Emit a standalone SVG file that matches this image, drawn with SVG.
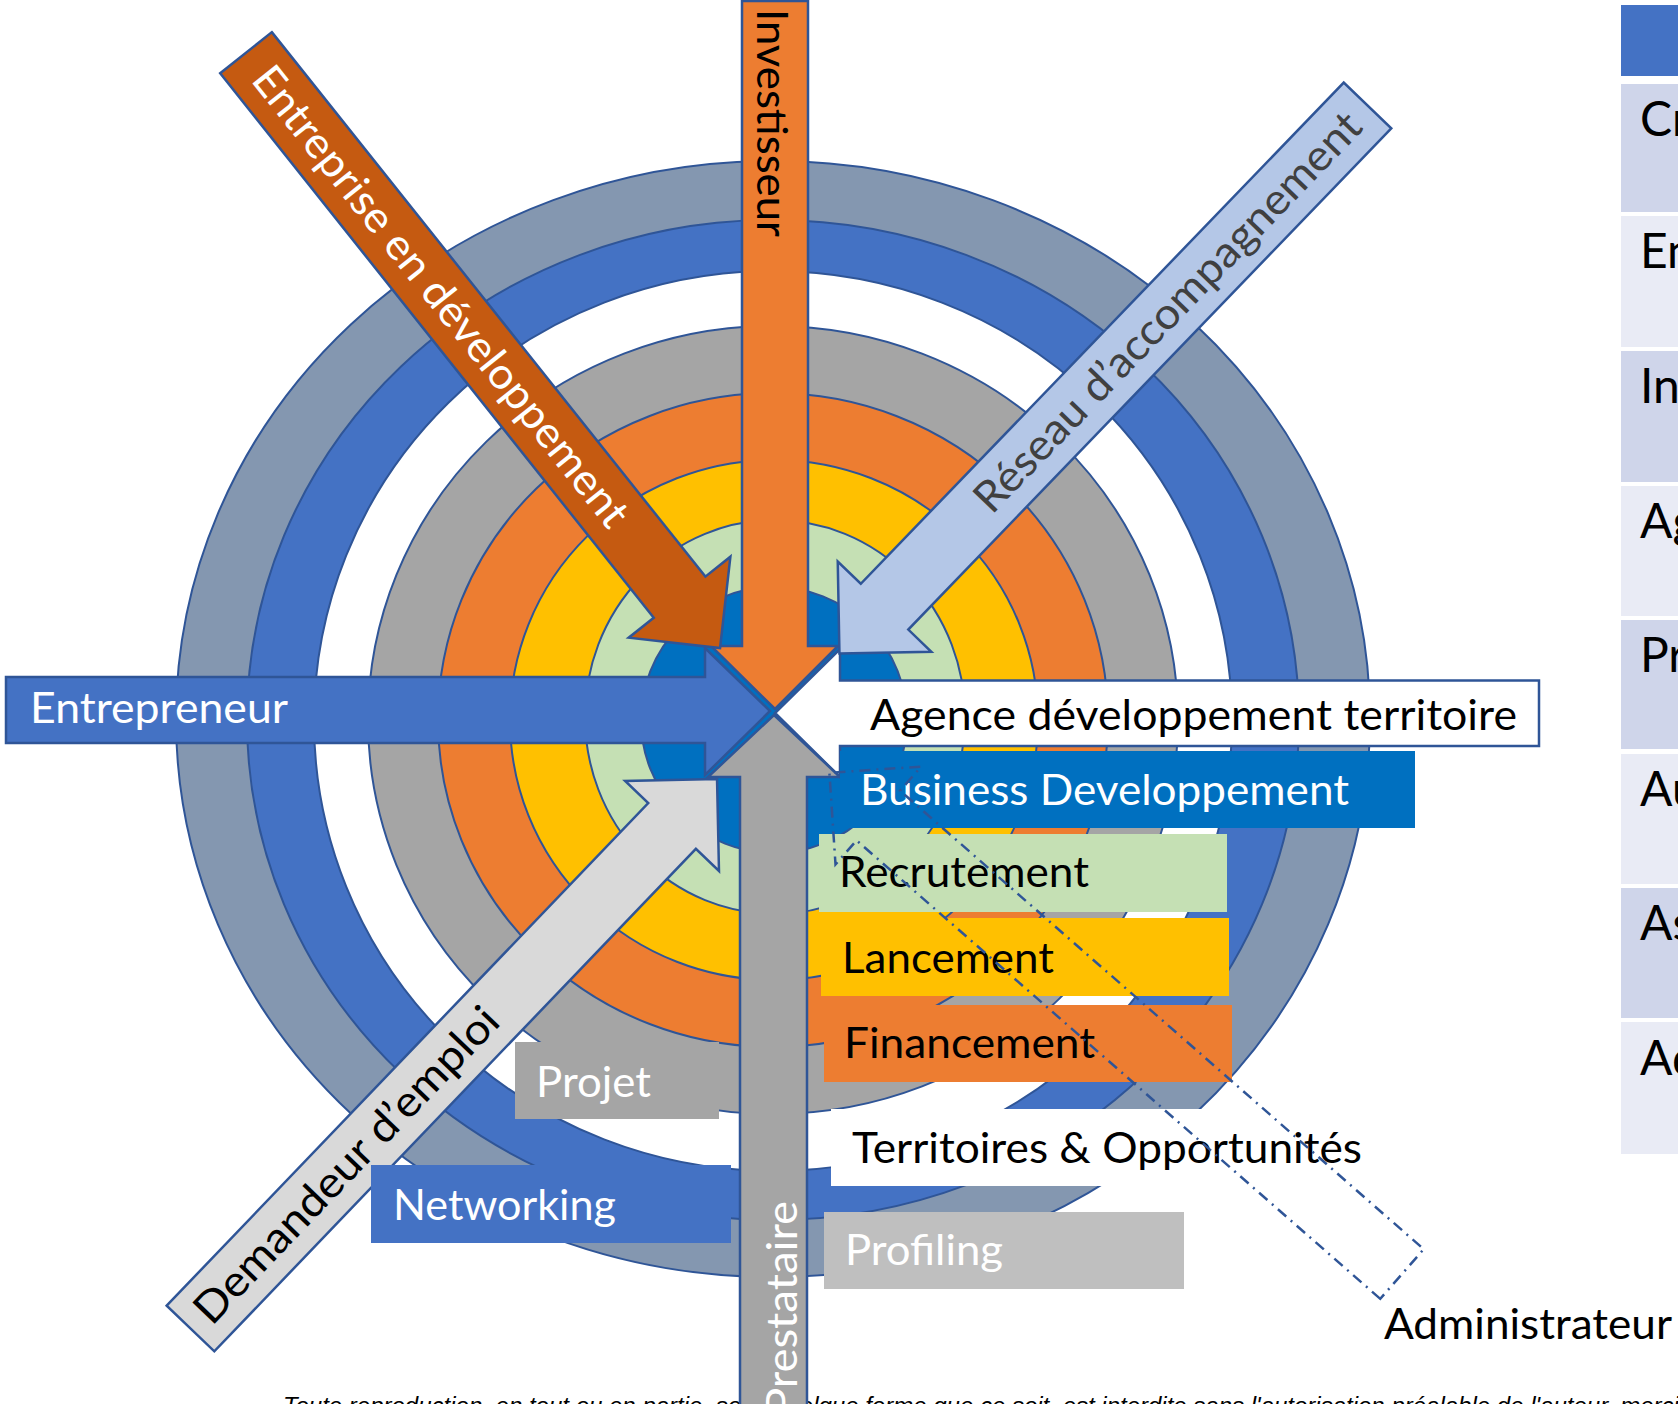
<svg xmlns="http://www.w3.org/2000/svg" width="1678" height="1404" viewBox="0 0 1678 1404">
<style>
.ring{stroke:#2F5597;stroke-width:2}
.arr{stroke:#2F5597;stroke-width:2.5;stroke-linejoin:miter}
.lbl{font-family:Lato,"Open Sans","DejaVu Sans",sans-serif;font-size:43px}
.tbl{font-family:Lato,"Open Sans","DejaVu Sans",sans-serif;font-size:48px;fill:#000}
.foot{font-family:"Liberation Sans",Arial,sans-serif;font-size:24px;font-style:italic;fill:#000}
.dark{fill:#CFD5EA}
.light{fill:#E9EBF5}
</style>
<defs>
<path id="diag" d="M0,-33 H696 V-65 L761,0 L696,65 V33 H0 Z"/>
</defs>
<rect width="1678" height="1404" fill="#FFFFFF"/>

<g id="footer">
<text class="foot" x="283" y="1414">Toute reproduction, en tout ou en partie, sous quelque forme que ce soit, est interdite sans l'autorisation préalable de l'auteur, merci</text>
</g>

<g id="table">
<rect x="1621" y="5" width="70" height="71" fill="#4472C4"/>
<rect class="dark" x="1621" y="84" width="70" height="128"/>
<rect class="light" x="1621" y="216" width="70" height="131"/>
<rect class="dark" x="1621" y="351" width="70" height="131"/>
<rect class="light" x="1621" y="486" width="70" height="130"/>
<rect class="dark" x="1621" y="620" width="70" height="129"/>
<rect class="light" x="1621" y="754" width="70" height="130"/>
<rect class="dark" x="1621" y="888" width="70" height="130"/>
<rect class="light" x="1621" y="1022" width="70" height="132"/>
<text class="tbl" x="1640" y="136">Cr</text>
<text class="tbl" x="1640" y="268">En</text>
<text class="tbl" x="1640" y="403">Inv</text>
<text class="tbl" x="1640" y="538">Ag</text>
<text class="tbl" x="1640" y="672">Pr</text>
<text class="tbl" x="1640" y="806">Au</text>
<text class="tbl" x="1640" y="940">As</text>
<text class="tbl" x="1640" y="1075">Ad</text>
</g>

<g id="rings">
<ellipse class="ring" cx="773" cy="719" rx="597" ry="558" fill="#8497B0"/>
<ellipse class="ring" cx="773" cy="720" rx="526" ry="500" fill="#4472C4"/>
<ellipse class="ring" cx="773" cy="721" rx="459" ry="450" fill="#FFFFFF"/>
<ellipse class="ring" cx="773" cy="720" rx="405" ry="394" fill="#A5A5A5"/>
<ellipse class="ring" cx="773" cy="720" rx="335" ry="327" fill="#ED7D31"/>
<ellipse class="ring" cx="774" cy="720" rx="264" ry="260" fill="#FFC000"/>
<ellipse class="ring" cx="775" cy="717" rx="190" ry="197" fill="#C5E0B4"/>
<circle class="ring" cx="774" cy="720" r="133" fill="#0070C0"/>
</g>

<g id="agence">
<path class="arr" d="M1539,680.6 H840 V649 L775,713 L840,777 V746 H1539 Z" fill="#FFFFFF"/>
<text class="lbl" x="870" y="730" fill="#000" textLength="647" lengthAdjust="spacingAndGlyphs">Agence développement territoire</text>
</g>

<g id="entrepreneur">
<path class="arr" d="M6,677 H705 V648 L770,711 L705,775 V743 H6 Z" fill="#4472C4"/>
<text class="lbl" x="30" y="723" fill="#FFFFFF" textLength="258" lengthAdjust="spacingAndGlyphs">Entrepreneur</text>
</g>

<g id="investisseur">
<path class="arr" d="M742,1 H808 V646 H838 L775,709 L711,646 H742 Z" fill="#ED7D31"/>
<text class="lbl" transform="translate(757,9) rotate(90)" x="0" y="0" fill="#000" textLength="228" lengthAdjust="spacingAndGlyphs">Investisseur</text>
</g>

<g id="prestataire">
<path class="arr" d="M740,1410 V777 H708 L774,715 L840,777 H807 V1410 Z" fill="#A5A5A5"/>
<text class="lbl" transform="translate(797,1415) rotate(-90)" x="0" y="0" fill="#FFFFFF" textLength="214" lengthAdjust="spacingAndGlyphs">Prestataire</text>
</g>

<g id="entreprise">
<g transform="translate(246,52.7) rotate(51.47)">
<use href="#diag" class="arr" fill="#C55A11"/>
<text class="lbl" x="24" y="14" fill="#FFFFFF" textLength="576" lengthAdjust="spacingAndGlyphs">Entreprise en développement</text>
</g>
</g>

<g id="reseau">
<use href="#diag" class="arr" fill="#B4C7E7" transform="translate(1367.5,105.5) rotate(133.94)"/>
<text class="lbl" transform="translate(1168,312.5) rotate(-46.06)" x="-268.5" y="14" fill="#404040" textLength="537" lengthAdjust="spacingAndGlyphs">Réseau d’accompagnement</text>
</g>

<g id="demandeur">
<g transform="translate(190.5,1328.5) rotate(-46.22)">
<use href="#diag" class="arr" fill="#D9D9D9"/>
<text class="lbl" x="16" y="14" fill="#000" textLength="420" lengthAdjust="spacingAndGlyphs">Demandeur d’emploi</text>
</g>
</g>

<g id="business">
<rect x="840" y="751" width="575" height="77" fill="#0070C0"/>
<text class="lbl" x="860" y="805" fill="#FFFFFF" textLength="489" lengthAdjust="spacingAndGlyphs">Business Developpement</text>
</g>
<g id="recrutement">
<rect x="819" y="834" width="408" height="78" fill="#C5E0B4"/>
<text class="lbl" x="839" y="887" fill="#000" textLength="250" lengthAdjust="spacingAndGlyphs">Recrutement</text>
</g>
<g id="lancement">
<rect x="821" y="918" width="408" height="78" fill="#FFC000"/>
<text class="lbl" x="842" y="973" fill="#000" textLength="212" lengthAdjust="spacingAndGlyphs">Lancement</text>
</g>
<g id="financement">
<rect x="824" y="1005" width="408" height="77" fill="#ED7D31"/>
<text class="lbl" x="844" y="1058" fill="#000" textLength="251" lengthAdjust="spacingAndGlyphs">Financement</text>
</g>
<g id="territoires">
<rect x="831" y="1109" width="540" height="77" fill="#FFFFFF"/>
<text class="lbl" x="852" y="1163" fill="#000" textLength="510" lengthAdjust="spacingAndGlyphs">Territoires &amp; Opportunités</text>
</g>
<g id="profiling">
<rect x="824" y="1212" width="360" height="77" fill="#BFBFBF"/>
<text class="lbl" x="845" y="1265" fill="#FFFFFF" textLength="158" lengthAdjust="spacingAndGlyphs">Profiling</text>
</g>
<g id="projet">
<rect x="515" y="1042" width="204" height="77" fill="#A5A5A5"/>
<text class="lbl" x="536" y="1097" fill="#FFFFFF" textLength="115" lengthAdjust="spacingAndGlyphs">Projet</text>
</g>
<g id="networking">
<rect x="371" y="1165" width="360" height="78" fill="#4472C4"/>
<text class="lbl" x="393" y="1220" fill="#FFFFFF" textLength="223" lengthAdjust="spacingAndGlyphs">Networking</text>
</g>

<g id="administrateur">
<use href="#diag" fill="none" stroke="#2F5597" stroke-width="2.5" stroke-dasharray="11 6 2 6" transform="translate(1402,1274) rotate(221.2)"/>
<text class="lbl" x="1384" y="1339" fill="#000" textLength="288" lengthAdjust="spacingAndGlyphs">Administrateur</text>
</g>

<g id="connectors"></g>
</svg>
